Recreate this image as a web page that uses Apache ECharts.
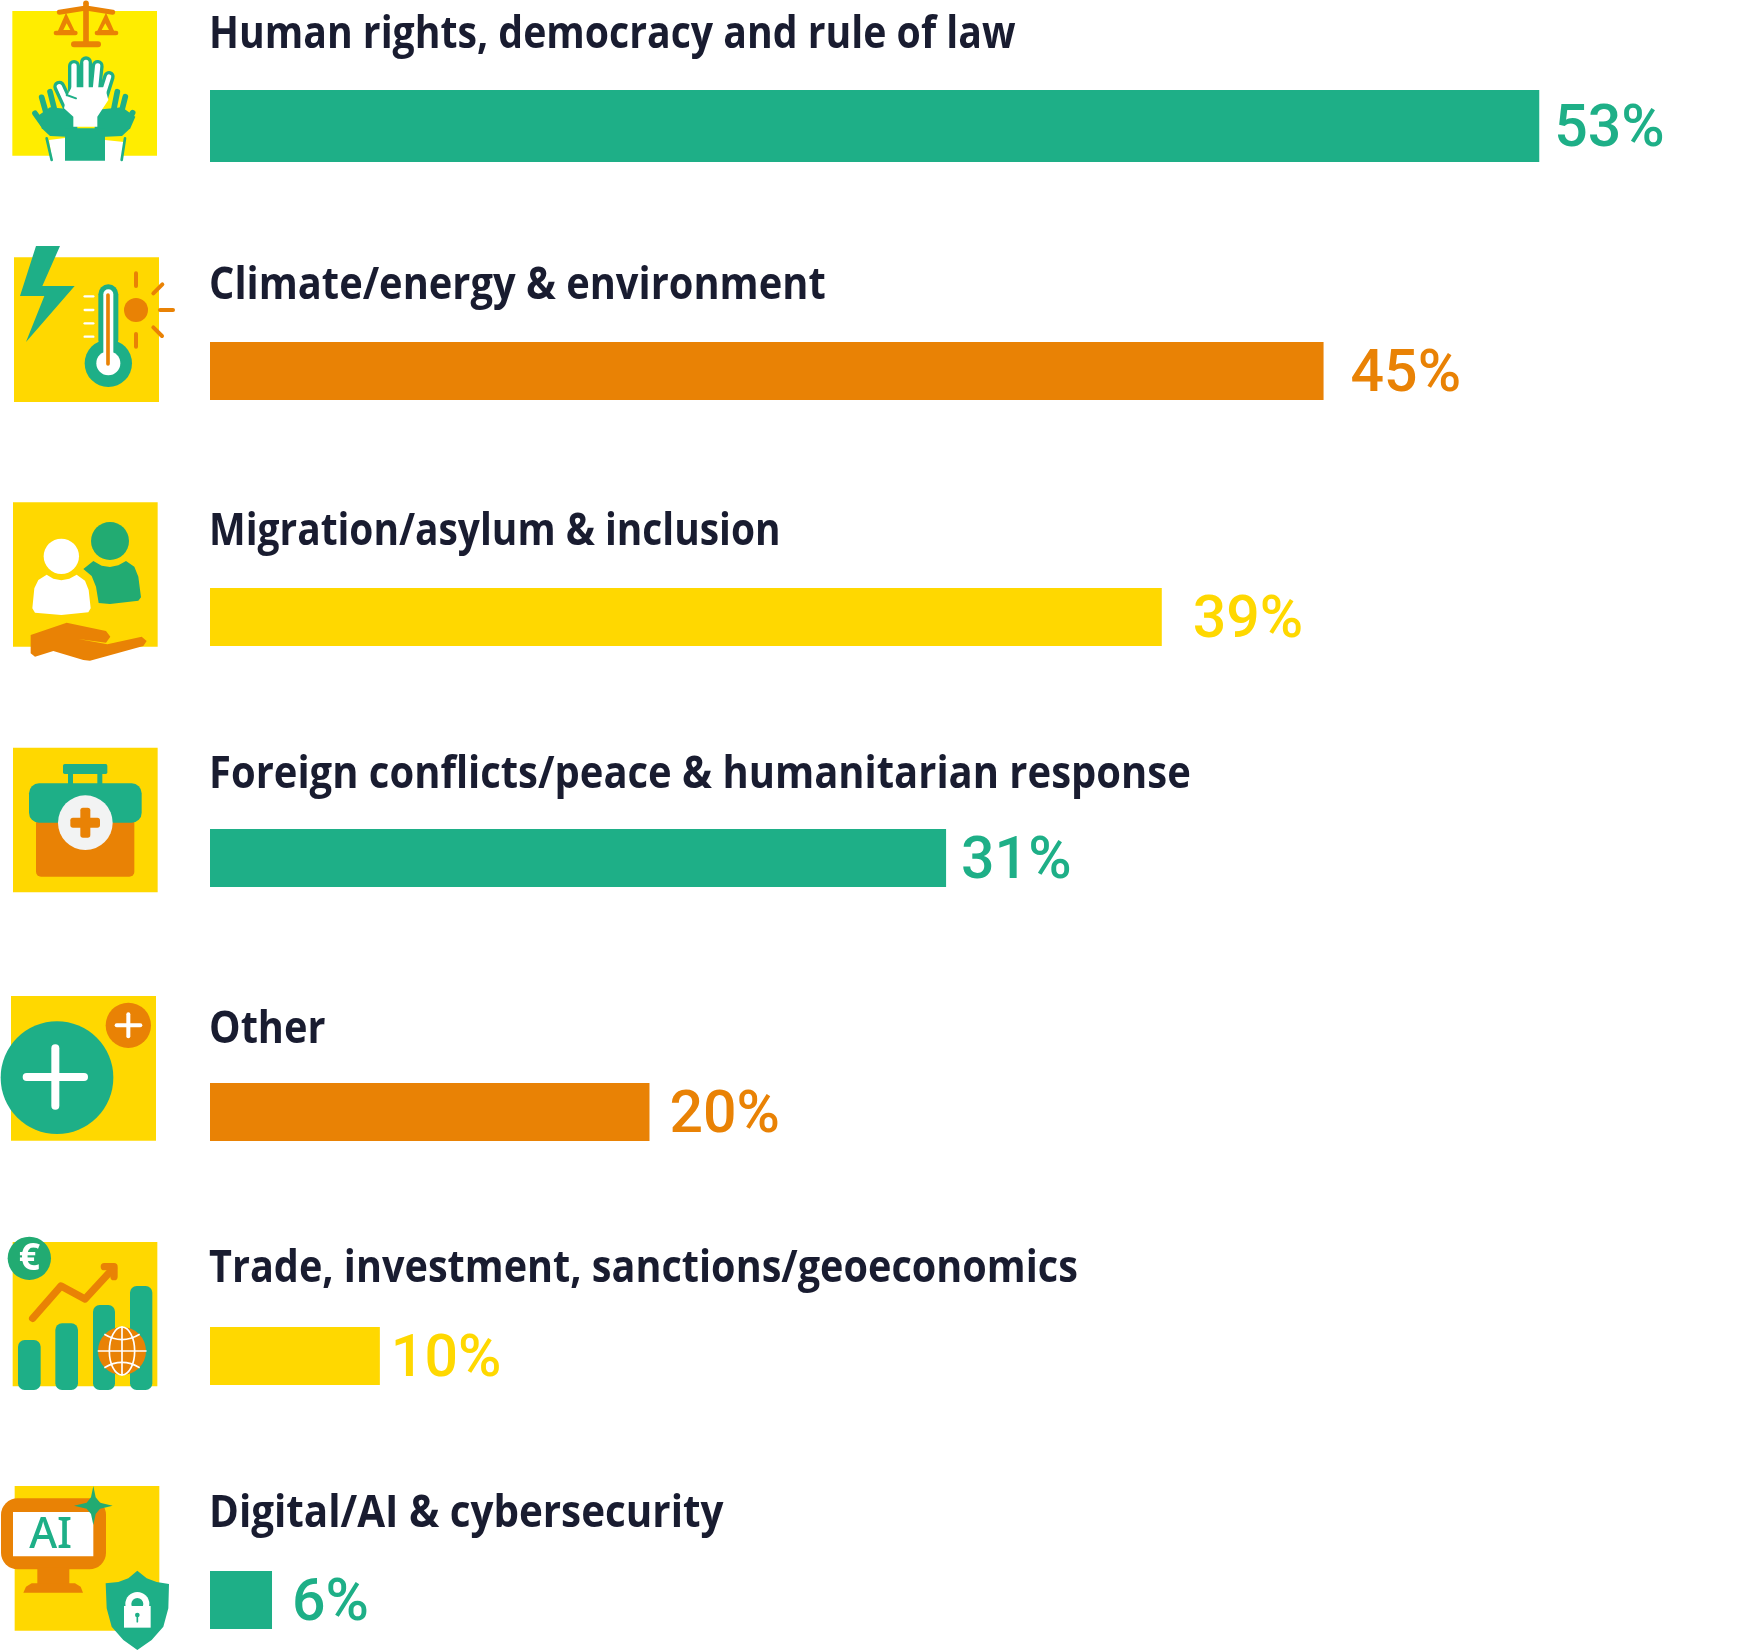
<!DOCTYPE html>
<html>
<head>
<meta charset="utf-8">
<style>html,body{margin:0;padding:0;background:#fff}#chart{width:1740px;height:1651px}</style>
<script src="https://cdn.jsdelivr.net/npm/echarts@6/dist/echarts.min.js"></script>
</head>
<body>
<div id="chart"></div>
<script>
// Shares per policy area
const categories = [
  'Human rights, democracy and rule of law',
  'Climate/energy & environment',
  'Migration/asylum & inclusion',
  'Foreign conflicts/peace & humanitarian response',
  'Other',
  'Trade, investment, sanctions/geoeconomics',
  'Digital/AI & cybersecurity'
];
const shares = [53, 45, 39, 31, 20, 10, 6];

// Palette
const GREEN = '#1EAF87', ORANGE = '#E98205', YELLOW = '#FFD800', LEMON = '#FFED00', INK = '#191C30', FOREST = '#22AB72', WHITE = '#FFFFFF';
const barColors = [GREEN, ORANGE, YELLOW, GREEN, ORANGE, YELLOW, GREEN];

// Row geometry
const barTops = [90, 342, 588, 829, 1083, 1327, 1571];
const barHeights = [72, 58, 58, 58, 58, 58, 58];
const valueGaps = [15, 27, 31, 15, 20, 11, 20];
const titleBaselines = [48, 299, 545, 788, 1043, 1282, 1527];
const titleScales = [0.871, 0.885, 0.864, 0.888, 0.883, 0.880, 0.897];
const PLOT_LEFT = 210, PLOT_WIDTH = 1518, AXIS_MIN = 3.7, AXIS_MAX = 60;
const TITLE_FONT = '700 45px "Open Sans"', TITLE_DROP = 35;

// Small drawing helpers for the pictograms, coordinates are in 3x units
const box = (x0, y0, x1, y1, fill, r) => ({type: 'rect', shape: {x: x0, y: y0, width: x1 - x0, height: y1 - y0, r: r || 0}, style: {fill}});
const dot = (cx, cy, r, fill) => ({type: 'circle', shape: {cx, cy, r}, style: {fill}});
const poly = (points, fill, smooth) => ({type: 'polygon', shape: {points, smooth: smooth || 0}, style: {fill}});
const stroke = (points, color, w) => ({type: 'polyline', shape: {points}, style: {stroke: color, lineWidth: w, lineCap: 'round', lineJoin: 'round', fill: 'none'}});
const glyph = (text, x, y, font, fill) => ({type: 'text', x, y, style: {text, font, fill, align: 'center', verticalAlign: 'middle'}});
const icon = (ox, oy, children) => ({type: 'group', x: ox, y: oy, scaleX: 1 / 3, scaleY: 1 / 3, silent: true, children});

const mirror = (pts) => pts.map(([x, y]) => [516 - x, y]);
const backHand = [[110, 350], [150, 322], [232, 330], [232, 412], [150, 408], [125, 385]];
const rightsIcon = icon(0, 0, [
  box(37, 33, 471, 467, LEMON),
  stroke([[258, 10], [258, 132]], ORANGE, 17),
  stroke([[178, 37], [258, 24], [338, 37]], ORANGE, 15),
  stroke([[222, 133], [294, 133]], ORANGE, 18),
  poly([[198, 38], [172, 97], [226, 97]], ORANGE),
  poly([[318, 38], [290, 97], [344, 97]], ORANGE),
  poly([[200, 70], [190, 90], [211, 90]], LEMON),
  poly([[316, 70], [305, 90], [327, 90]], LEMON),
  stroke([[168, 99], [226, 99]], ORANGE, 14),
  stroke([[291, 99], [348, 99]], ORANGE, 14),
  stroke([[105, 340], [128, 372]], GREEN, 17), stroke([[125, 292], [140, 345]], GREEN, 17), stroke([[150, 275], [165, 335]], GREEN, 17),
  stroke([[398, 338], [380, 372]], GREEN, 17), stroke([[376, 290], [362, 345]], GREEN, 17), stroke([[352, 275], [340, 335]], GREEN, 17),
  poly(backHand, GREEN), poly(mirror(backHand), GREEN),
  box(195, 385, 315, 482, GREEN),
  poly([[147, 420], [195, 414], [195, 482], [157, 482]], WHITE),
  poly([[315, 420], [372, 426], [365, 482], [315, 482]], WHITE),
  stroke([[140, 415], [155, 480]], GREEN, 8), stroke([[375, 415], [365, 480]], GREEN, 8),
  stroke([[222, 198], [222, 270]], GREEN, 36), stroke([[258, 187], [258, 270]], GREEN, 36),
  stroke([[293, 198], [285, 270]], GREEN, 36), stroke([[327, 230], [308, 290]], GREEN, 34), stroke([[178, 260], [208, 325]], GREEN, 36),
  stroke([[222, 198], [222, 280]], WHITE, 16), stroke([[258, 187], [258, 280]], WHITE, 16),
  stroke([[293, 198], [285, 280]], WHITE, 16), stroke([[327, 230], [308, 290]], WHITE, 14), stroke([[178, 260], [208, 325]], WHITE, 16),
  poly([[200, 290], [215, 262], [315, 262], [325, 300], [292, 350], [292, 380], [220, 380], [220, 350], [192, 325]], WHITE),
  stroke([[200, 285], [228, 295]], GREEN, 6)
]);
const climateIcon = icon(0, 0, [
  box(42, 772, 477, 1206, YELLOW),
  poly([[108, 738], [180, 738], [127, 858], [224, 858], [78, 1026], [133, 888], [60, 888]], GREEN),
  dot(325, 1090, 71, GREEN),
  box(295, 853, 355, 1050, GREEN, 30),
  dot(325, 1090, 36, WHITE),
  box(310, 868, 340, 1070, WHITE, 15),
  stroke([[324, 885], [324, 1092]], ORANGE, 11),
  stroke([[254, 889], [280, 889]], WHITE, 7), stroke([[254, 930], [280, 930]], WHITE, 7),
  stroke([[254, 970], [280, 970]], WHITE, 7), stroke([[254, 1010], [280, 1010]], WHITE, 7),
  dot(408, 930, 36, ORANGE),
  stroke([[408, 820], [408, 858]], ORANGE, 12), stroke([[408, 1002], [408, 1040]], ORANGE, 12),
  stroke([[460, 880], [487, 853]], ORANGE, 12), stroke([[480, 930], [519, 930]], ORANGE, 12), stroke([[460, 982], [486, 1008]], ORANGE, 12)
]);
const migrationIcon = icon(0, 490, [
  box(39, 37, 473, 470, YELLOW),
  dot(184, 199, 53, WHITE),
  poly([[140, 254], [160, 266], [184, 271], [208, 266], [230, 254], [255, 272], [266, 300], [272, 355], [265, 367], [184, 375], [105, 368], [97, 355], [103, 295], [115, 270]], WHITE),
  dot(330, 153, 57, FOREST),
  poly([[280, 213], [305, 227], [330, 231], [355, 226], [378, 213], [403, 230], [415, 260], [423, 322], [415, 332], [330, 342], [296, 339], [288, 290], [275, 258], [250, 237]], FOREST),
  poly([[92, 435], [200, 398], [318, 423], [331, 440], [318, 458], [235, 447], [322, 463], [425, 440], [440, 453], [430, 468], [270, 512], [250, 510], [160, 483], [105, 500], [92, 490]], ORANGE)
]);
const aidIcon = icon(0, 490, [
  box(39, 773, 473, 1207, YELLOW),
  box(189, 822, 322, 852, GREEN, 5),
  box(204, 852, 219, 882, GREEN), box(292, 852, 307, 882, GREEN),
  box(108, 985, 403, 1160, ORANGE, 15),
  box(87, 880, 425, 998, GREEN, 30),
  dot(256, 998, 82, '#F2F3F3'),
  box(241, 953, 271, 1043, ORANGE, 8),
  box(211, 983, 300, 1013, ORANGE, 8)
]);
const otherIcon = icon(0, 985, [
  box(33, 33, 468, 467, YELLOW),
  dot(171, 278, 169, GREEN),
  stroke([[166, 190], [166, 362]], WHITE, 24), stroke([[80, 276], [252, 276]], WHITE, 24),
  dot(385, 121, 68, ORANGE),
  stroke([[385, 88], [385, 154]], WHITE, 12), stroke([[350, 121], [421, 121]], WHITE, 12)
]);
const tradeIcon = icon(0, 1230, [
  box(38, 36, 472, 469, YELLOW),
  box(54, 330, 122, 480, GREEN, 20), box(166, 280, 234, 480, GREEN, 20),
  box(279, 225, 345, 480, GREEN, 20), box(390, 168, 457, 480, GREEN, 20),
  dot(88, 85, 65, FOREST),
  glyph('€', 88, 87, '700 112px "Open Sans"', WHITE),
  stroke([[98, 265], [183, 168], [255, 207], [340, 115]], ORANGE, 22),
  stroke([[313, 110], [342, 110], [342, 140]], ORANGE, 22),
  dot(366, 363, 72, ORANGE),
  {type: 'ellipse', shape: {cx: 366, cy: 363, rx: 38, ry: 72}, style: {stroke: WHITE, lineWidth: 5, fill: 'none'}},
  stroke([[366, 291], [366, 435]], WHITE, 5), stroke([[295, 363], [438, 363]], WHITE, 5),
  {type: 'bezierCurve', shape: {x1: 313, y1: 313, x2: 419, y2: 313, cpx1: 366, cpy1: 345}, style: {stroke: WHITE, lineWidth: 5, fill: 'none'}},
  {type: 'bezierCurve', shape: {x1: 313, y1: 413, x2: 419, y2: 413, cpx1: 366, cpy1: 381}, style: {stroke: WHITE, lineWidth: 5, fill: 'none'}}
]);
const digitalIcon = icon(0, 1480, [
  box(44, 18, 478, 452, YELLOW),
  box(3, 55, 318, 268, ORANGE, 50),
  box(39, 96, 280, 229, WHITE),
  glyph('AI', 152, 168, '500 128px "Noto Sans"', GREEN),
  box(112, 262, 208, 315, ORANGE),
  poly([[70, 338], [78, 320], [95, 310], [225, 310], [242, 320], [249, 338]], ORANGE),
  poly([[280, 18], [287, 52], [300, 68], [338, 77], [300, 86], [287, 102], [280, 135], [273, 102], [260, 86], [222, 77], [260, 68], [273, 52]], FOREST),
  poly([[412, 272], [440, 295], [470, 306], [507, 312], [505, 385], [490, 440], [455, 480], [412, 510], [370, 480], [335, 440], [320, 385], [317, 310], [355, 306], [385, 295]], GREEN),
  dot(412, 372, 36, WHITE),
  dot(412, 372, 18, GREEN),
  box(372, 378, 452, 443, WHITE),
  dot(412, 405, 7, GREEN),
  stroke([[412, 405], [412, 425]], GREEN, 5)
]);

// One grid per row so the uneven spacing is kept while every bar stays on the shared scale
const grids = [], xAxes = [], yAxes = [], seriesList = [];
categories.forEach((name, i) => {
  grids.push({left: PLOT_LEFT, width: PLOT_WIDTH, top: barTops[i], height: barHeights[i]});
  xAxes.push({type: 'value', gridIndex: i, min: AXIS_MIN, max: AXIS_MAX, show: false});
  yAxes.push({type: 'category', gridIndex: i, data: [name], show: false});
  seriesList.push({
    type: 'bar', name, xAxisIndex: i, yAxisIndex: i, data: [shares[i]],
    barWidth: '100%', silent: true, animation: false,
    itemStyle: {color: barColors[i]},
    label: {show: true, position: 'right', distance: valueGaps[i], offset: [0, 5], formatter: '{c}%',
      color: barColors[i], fontFamily: 'Roboto', fontWeight: 500, fontSize: 59}
  });
});

const titles = categories.map((text, i) => ({
  type: 'text', x: PLOT_LEFT - 1, y: titleBaselines[i] - TITLE_DROP, scaleX: titleScales[i], silent: true,
  style: {text, font: TITLE_FONT, fill: INK, align: 'left', verticalAlign: 'top'}
}));

const chart = echarts.init(document.getElementById('chart'), null, {renderer: 'canvas'});
chart.setOption({
  animation: false,
  backgroundColor: '#fff',
  grid: grids, xAxis: xAxes, yAxis: yAxes, series: seriesList,
  graphic: {elements: [rightsIcon, climateIcon, migrationIcon, aidIcon, otherIcon, tradeIcon, digitalIcon, ...titles]}
});
</script>
</body>
</html>
